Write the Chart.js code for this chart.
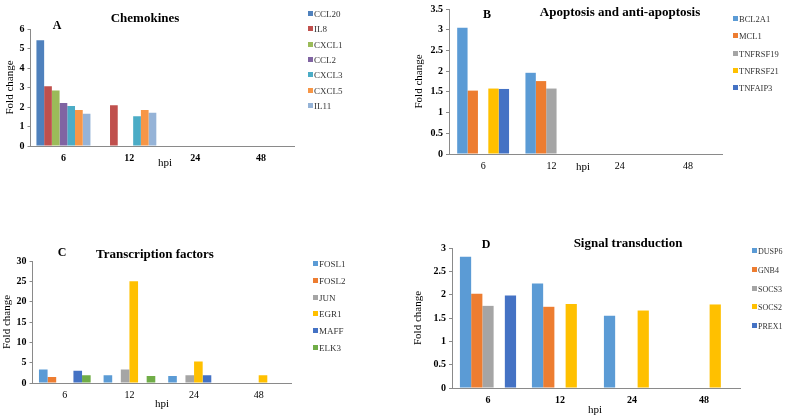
<!DOCTYPE html>
<html>
<head>
<meta charset="utf-8">
<script src="https://cdn.jsdelivr.net/npm/chart.js@4"></script>
<style>
  body { margin: 0; width: 785px; height: 415px; position: relative; overflow: hidden; background: #fff;
         font-family: 'Liberation Serif', 'Times New Roman', serif; color: #000; }
  canvas { position: absolute; left: 0; top: 0; }
  .t { position: absolute; white-space: nowrap; transform: translate(-50%, -50%); }
  .title { font-weight: bold; font-size: 13px; }
  .letter { font-weight: bold; font-size: 12px; }
  .hpi { font-size: 11px; }
  .lg { position: absolute; white-space: nowrap; font-size: 9px; line-height: 10px; color: #333; }
  .lg i { display: inline-block; width: 5px; height: 5px; margin-right: 1px; vertical-align: 1px; }
</style>
</head>
<body>
<canvas id="cA" width="785" height="415"></canvas>
<canvas id="cB" width="785" height="415"></canvas>
<canvas id="cC" width="785" height="415"></canvas>
<canvas id="cD" width="785" height="415"></canvas>

<div class="t title" style="left:145px;top:18px">Chemokines</div>
<div class="t letter" style="left:57px;top:25px">A</div>
<div class="t hpi" style="left:165px;top:162px">hpi</div>

<div class="t title" style="left:620px;top:12px">Apoptosis and anti-apoptosis</div>
<div class="t letter" style="left:487px;top:14px">B</div>
<div class="t hpi" style="left:583px;top:166px">hpi</div>

<div class="t title" style="left:155px;top:254px">Transcription factors</div>
<div class="t letter" style="left:62px;top:252px">C</div>
<div class="t hpi" style="left:162px;top:403px">hpi</div>

<div class="t title" style="left:628px;top:243px">Signal transduction</div>
<div class="t letter" style="left:486px;top:244px">D</div>
<div class="t hpi" style="left:595px;top:409px">hpi</div>

<script>
// time points (hours post infection)
const hpi = ['6', '12', '24', '48'];

// A - chemokines
const chemoGenes = ['CCL20', 'IL8', 'CXCL1', 'CCL2', 'CXCL3', 'CXCL5', 'IL11'];
const chemoValues = [
  [5.42, null, null, null],
  [3.07, 2.09, null, null],
  [2.85, null, null, null],
  [2.2, null, null, null],
  [2.05, 1.53, null, null],
  [1.84, 1.84, null, null],
  [1.66, 1.71, null, null]
];

// B - apoptosis and anti-apoptosis
const apoGenes = ['BCL2A1', 'MCL1', 'TNFRSF19', 'TNFRSF21', 'TNFAIP3'];
const apoValues = [
  [3.05, 1.96, null, null],
  [1.53, 1.76, null, null],
  [null, 1.58, null, null],
  [1.58, null, null, null],
  [1.57, null, null, null]
];

// C - transcription factors
const tfGenes = ['FOSL1', 'FOSL2', 'JUN', 'EGR1', 'MAFF', 'ELK3'];
const tfValues = [
  [3.3, 1.9, 1.7, null],
  [1.5, null, null, null],
  [null, 3.3, 1.9, null],
  [null, 25, 5.3, 1.9],
  [3.0, null, 1.9, null],
  [1.9, 1.7, null, null]
];

// D - signal transduction
const sigGenes = ['DUSP6', 'GNB4', 'SOCS3', 'SOCS2', 'PREX1'];
const sigValues = [
  [2.81, 2.24, 1.55, null],
  [2.02, 1.74, null, null],
  [1.76, null, null, null],
  [null, 1.8, 1.66, 1.79],
  [1.98, null, null, null]
];

const oldColors = ['#4F81BD', '#C0504D', '#9BBB59', '#8064A2', '#4BACC6', '#F79646', '#95B3D7'];
const newColors = ['#5B9BD5', '#ED7D31', '#A5A5A5', '#FFC000', '#4472C4', '#70AD47'];

Chart.defaults.font.family = "'Liberation Serif', 'Times New Roman', serif";
Chart.defaults.color = '#000';

const axisGray = '#8a8a8a';

function panel(id, genes, values, colors, o) {
  new Chart(document.getElementById(id), {
    type: 'bar',
    data: {
      labels: hpi,
      datasets: genes.map((g, i) => ({
        label: g,
        data: values[i],
        backgroundColor: colors[i],
        categoryPercentage: o.cat,
        barPercentage: 1
      }))
    },
    options: {
      responsive: false,
      animation: false,
      events: [],
      layout: { padding: { left: o.left - o.yw, right: 785 - o.right, top: o.top, bottom: 415 - o.bottom - 30 } },
      plugins: { legend: { display: false }, tooltip: { enabled: false } },
      scales: {
        x: {
          grid: { display: true, drawOnChartArea: false, drawTicks: false },
          border: { color: axisGray },
          ticks: { padding: 6, font: { size: 10, weight: o.xBold ? 'bold' : 'normal' } },
          afterFit: s => { s.height = 30; }
        },
        y: {
          min: 0,
          max: o.max,
          grid: { drawOnChartArea: false, tickLength: 3, color: axisGray },
          border: { color: axisGray },
          ticks: {
            stepSize: o.step, padding: 3, font: { size: 10, weight: 'bold' },
            callback: v => String(Math.round(v * 100) / 100)
          },
          title: { display: true, text: 'Fold change', padding: 0, font: { size: 11 } },
          afterFit: s => { s.width = o.yw; }
        }
      }
    }
  });

  // legend on the right
  genes.forEach((g, i) => {
    const d = document.createElement('div');
    d.className = 'lg';
    d.style.left = o.lgX + 'px';
    d.style.top = (o.lgY + i * o.lgStep - 5) + 'px';
    d.style.fontSize = o.lgFont + 'px';
    d.innerHTML = '<i style="background:' + colors[i] + '"></i>' + g;
    document.body.appendChild(d);
  });
}

panel('cA', chemoGenes, chemoValues, oldColors,
  { left: 30.5, right: 294, top: 29, bottom: 146, yw: 27, max: 6, step: 1, xBold: true, cat: 0.82,
    lgX: 308, lgY: 14, lgStep: 15.3, lgFont: 9 });
panel('cB', apoGenes, apoValues, newColors,
  { left: 449, right: 722, top: 4, bottom: 154, yw: 36, max: 3.5, step: 0.5, xBold: false, cat: 0.76,
    lgX: 733, lgY: 19, lgStep: 17.3, lgFont: 8.5 });
panel('cC', tfGenes, tfValues, newColors,
  { left: 32.5, right: 291, top: 261, bottom: 383, yw: 32, max: 30, step: 5, xBold: false, cat: 0.8,
    lgX: 313, lgY: 264, lgStep: 16.8, lgFont: 9 });
panel('cD', sigGenes, sigValues, newColors,
  { left: 452, right: 740, top: 248, bottom: 388, yw: 40, max: 3, step: 0.5, xBold: true, cat: 0.78,
    lgX: 752, lgY: 252, lgStep: 18.8, lgFont: 8 });
</script>
</body>
</html>
